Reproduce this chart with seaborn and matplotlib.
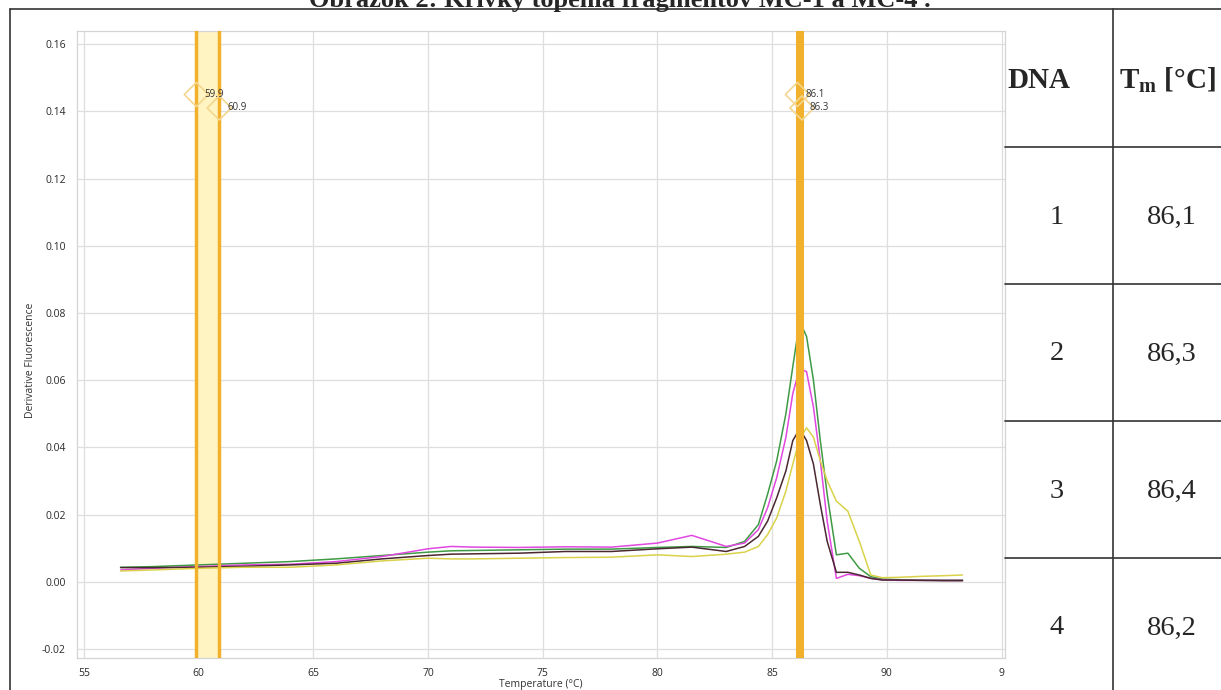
import numpy as np
import pandas as pd
import seaborn as sns
import matplotlib.pyplot as plt
from matplotlib.lines import Line2D

# melt curve data
temps = [56.6, 58, 60, 62, 64, 66, 68, 70, 71, 72, 74, 76, 78, 80, 81.5, 83, 83.8, 84.4,
         84.8, 85.2, 85.6, 85.9, 86.2, 86.5, 86.8, 87.1, 87.4, 87.8, 88.3, 88.8, 89.3, 89.8,
         90.5, 91.5, 92.5, 93.3]
green = [0.0043, 0.0045, 0.005, 0.0055, 0.006, 0.0068, 0.0078, 0.0088, 0.0092, 0.0093, 0.0095,
         0.0097, 0.0097, 0.0102, 0.0105, 0.0102, 0.012, 0.017, 0.026, 0.036, 0.05, 0.064, 0.0775,
         0.073, 0.06, 0.042, 0.026, 0.008, 0.0085, 0.004, 0.0015, 0.0008, 0.0006, 0.0005, 0.0005, 0.0005]
magenta = [0.0035, 0.004, 0.0045, 0.005, 0.0052, 0.006, 0.0075, 0.0098, 0.0105, 0.0103, 0.0102,
           0.0104, 0.0103, 0.0115, 0.0138, 0.0105, 0.0115, 0.0155, 0.022, 0.031, 0.043, 0.056, 0.0635,
           0.0625, 0.052, 0.036, 0.018, 0.001, 0.0022, 0.0018, 0.001, 0.0006, 0.0004, 0.0004, 0.0004, 0.0004]
black = [0.0042, 0.0042, 0.0043, 0.0046, 0.005, 0.0055, 0.0068, 0.0078, 0.0082, 0.0083, 0.0085,
         0.009, 0.009, 0.0098, 0.0103, 0.009, 0.0105, 0.0135, 0.018, 0.025, 0.033, 0.042, 0.0455,
         0.042, 0.035, 0.023, 0.012, 0.0028, 0.0028, 0.002, 0.001, 0.0005, 0.0005, 0.0004, 0.0003, 0.0003]
yellow = [0.0032, 0.0035, 0.004, 0.0043, 0.0043, 0.005, 0.0062, 0.007, 0.0068, 0.0068, 0.007,
          0.0072, 0.0073, 0.008, 0.0075, 0.0082, 0.0088, 0.0105, 0.014, 0.019, 0.027, 0.035, 0.0425,
          0.0458, 0.043, 0.036, 0.03, 0.024, 0.021, 0.012, 0.002, 0.0012, 0.0013, 0.0016, 0.0018, 0.002]

# melt peak markers
peaks = [59.9, 60.9, 86.1, 86.3]
peak_y = [0.145, 0.141, 0.145, 0.141]
bands = [(59.9, 60.9), (86.1, 86.3)]

# table on the right
dna = ['1', '2', '3', '4']
tm = ['86,1', '86,3', '86,4', '86,2']

df = pd.DataFrame({
    'Temperature': temps * 4,
    'Value': green + magenta + black + yellow,
    'Sample': ['g'] * len(temps) + ['m'] * len(temps) + ['k'] * len(temps) + ['y'] * len(temps),
})
pal = {'g': '#3f9a45', 'm': '#e048e0', 'k': '#4a2830', 'y': '#d9d24a'}

sns.set_theme(style='whitegrid')
plt.rcParams['font.family'] = ['Open Sans', 'DejaVu Sans']

W, H = 1221, 690
fig = plt.figure(figsize=(W / 100, H / 100), dpi=100)
ax = fig.add_axes([77 / W, 32 / H, (1005 - 77) / W, (659 - 32) / H])

# yellow band behind the curves
ax.axvspan(bands[0][0], bands[0][1], color='#fff4c2', zorder=1, lw=0)
for x in bands[0]:
    ax.axvline(x, color='#f2b12c', lw=2.5, zorder=4)

sns.lineplot(data=df, x='Temperature', y='Value', hue='Sample', palette=pal,
             lw=1.1, legend=False, ax=ax, zorder=3)

# narrow orange band on top
ax.axvspan(bands[1][0], bands[1][1], color='#f2b12c', zorder=5, lw=0)
for x in bands[1]:
    ax.axvline(x, color='#f2b12c', lw=2.2, zorder=5)

ax.scatter(peaks, peak_y, marker='D', s=150, facecolors='none', edgecolors='#f4d68e',
           linewidths=1.2, zorder=6)
for x, y in zip(peaks, peak_y):
    ax.text(x + 0.35, y, f'{x:.1f}', fontsize=7, color='#333333', va='center', zorder=7)

ax.set_xlim(54.7, 95.15)
ax.set_ylim(-0.0227, 0.1639)
ax.set_xticks(np.arange(55, 96, 5))
ax.set_xticklabels(['55', '60', '65', '70', '75', '80', '85', '90', '9'])
ax.set_yticks(np.arange(-0.02, 0.161, 0.02))
ax.set_yticklabels([f'{v:.2f}' for v in np.arange(-0.02, 0.161, 0.02)])
ax.grid(True, color='#dedede', lw=0.9)
for s in ax.spines.values():
    s.set_color('#d4d4d4')
    s.set_linewidth(0.9)
ax.tick_params(axis='both', labelsize=7.5, colors='#2a2a2a', length=5, width=0.8,
               color='#cccccc', pad=3)
ax.tick_params(axis='x', length=0, pad=7)
ax.set_xlabel('Temperature (°C)', fontsize=7.5, color='#333333', labelpad=0)
ax.set_ylabel('Derivative Fluorescence', fontsize=7.5, color='#333333', labelpad=3)
ax.yaxis.set_label_coords(-30 / (1005 - 77) - 0.012, 0.475)

# document table lines
def hline(y, x0, x1):
    fig.add_artist(Line2D([x0 / W, x1 / W], [1 - y / H, 1 - y / H], color='#333333', lw=1.2))

def vline(x, y0, y1):
    fig.add_artist(Line2D([x / W, x / W], [1 - y0 / H, 1 - y1 / H], color='#333333', lw=1.2))

hline(9, 10, W)
vline(10, 9, H)
vline(1113, 9, H)
for y in [147, 284, 421, 558]:
    hline(y, 1005, W)

serif = ['Liberation Serif', 'DejaVu Serif']
fig.text(1039 / W, 1 - 80 / H, 'DNA', fontsize=21, fontweight='bold', family=serif,
         ha='center', va='center')
fig.text(1167 / W, 1 - 80 / H, r'T$_\mathregular{m}$ [°C]', fontsize=21, fontweight='bold',
         family=serif, ha='center', va='center')
for i, (d, t) in enumerate(zip(dna, tm)):
    yc = 1 - (217 + i * 137) / H
    fig.text(1057 / W, yc, d, fontsize=20.5, family=serif, ha='center', va='center')
    fig.text(1172 / W, yc, t, fontsize=20.5, family=serif, ha='center', va='center')

fig.text(620 / W, 1 - 7 / H, 'Obrázok 2: Krivky topenia fragmentov MC-1 a MC-4 .',
         fontsize=19, fontweight='bold', family=serif, ha='center', va='baseline')

fig.savefig('out.png', dpi=100, facecolor='white')
